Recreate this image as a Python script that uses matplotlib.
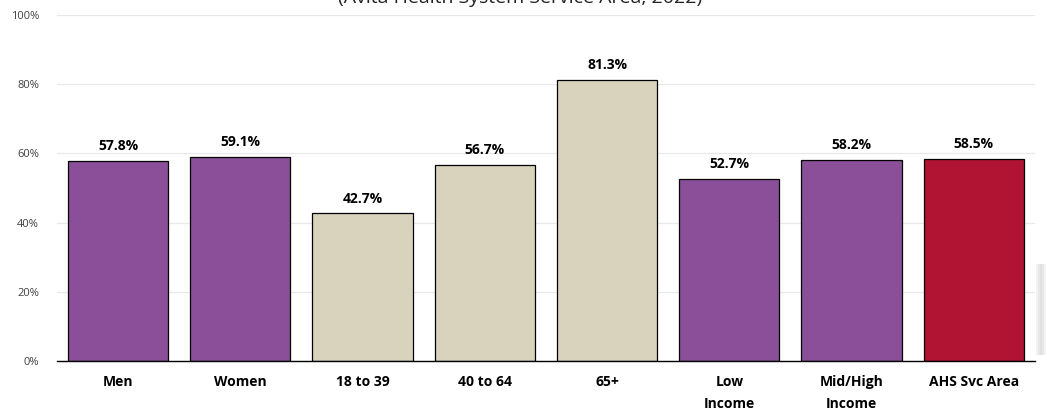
import matplotlib.pyplot as plt
import matplotlib.ticker as ticker
from matplotlib.patches import Rectangle
import numpy as np

categories = ['Men', 'Women', '18 to 39', '40 to 64', '65+', 'Low\nIncome', 'Mid/High\nIncome', 'AHS Svc Area']
values = [57.8, 59.1, 42.7, 56.7, 81.3, 52.7, 58.2, 58.5]
groups = ['sex', 'sex', 'age', 'age', 'age', 'income', 'income', 'total']

group_colors = {'sex': '#8B4F99', 'age': '#D9D3BE', 'income': '#8B4F99', 'total': '#B01432'}

plt.rcParams['font.family'] = ['Open Sans', 'DejaVu Sans']

fig = plt.figure(figsize=(10.47, 4.13), dpi=100)
ax = fig.add_axes([0.0544, 0.1259, 0.9341, 0.8378])

x = np.arange(len(categories))
colors = [group_colors[g] for g in groups]
ax.bar(x, values, width=0.82, color=colors, edgecolor='black', linewidth=0.9, zorder=3)

# value labels above the bars
for xi, v in zip(x, values):
    ax.text(xi, v + 2.2, f'{v:.1f}%', ha='center', va='bottom', fontsize=10,
            fontweight='bold', color='black')

ax.set_xlim(-0.5, len(categories) - 0.5)
ax.set_ylim(0, 100)
ax.set_yticks(np.arange(0, 101, 20))
ax.yaxis.set_major_formatter(ticker.FuncFormatter(lambda v, p: f'{int(v)}%'))
ax.tick_params(axis='y', length=0, labelsize=8, labelcolor='#404040', pad=13)
ax.set_xticks(x)
ax.set_xticklabels(categories, fontsize=10, fontweight='bold', va='top', linespacing=1.75)
ax.tick_params(axis='x', length=0, pad=10)

ax.grid(axis='y', color='#E8E8E8', linewidth=0.9, zorder=0)
for s in ['top', 'right', 'left']:
    ax.spines[s].set_visible(False)
ax.spines['bottom'].set_color('black')
ax.spines['bottom'].set_linewidth(1.0)
ax.spines['bottom'].set_zorder(4)

# faint shadow of the chart frame on the right edge
for i, a in enumerate([0.10, 0.18, 0.25, 0.18, 0.10]):
    fig.patches.append(Rectangle((0.9895 + i * 0.002, 0.14), 0.002, 0.22,
                                 transform=fig.transFigure, color='#808080', alpha=a, lw=0))

fig.text(0.497, 1.004, '(Avita Health System Service Area, 2022)', ha='center', va='center',
         fontsize=14, color='#222222')

plt.savefig('out.png', dpi=100)
